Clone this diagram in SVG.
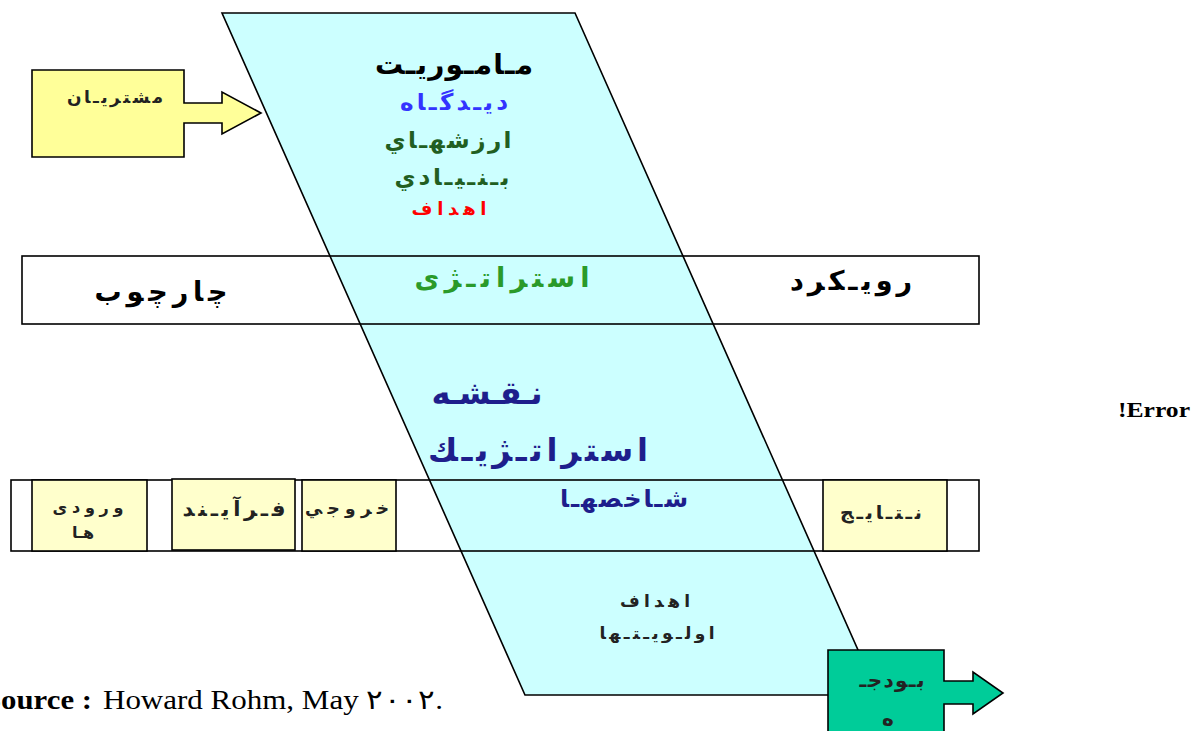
<svg xmlns="http://www.w3.org/2000/svg" width="1199" height="731" viewBox="0 0 1199 731">
<style>
.ar{font-family:"DejaVu Sans","Noto Sans",sans-serif;font-weight:bold;text-anchor:middle}
.ln{fill:none;stroke:#000;stroke-width:1.6}
.cell{fill:#FFFFCC;stroke:#000;stroke-width:1.6}
.tm{font-family:"Liberation Serif",serif}
</style>
<rect width="1199" height="731" fill="#fff"/>
<g id="strategy-shape">
<polygon points="222,13 575,13 878,695 525,695" fill="#CCFFFF" stroke="#000" stroke-width="1.6"/>
<text class="ar" x="454" y="74" font-size="28" fill="#000" textLength="158" lengthAdjust="spacing">مـامـوريـت</text>
<text class="ar" x="454" y="110" font-size="23" fill="#3333FF" textLength="108" lengthAdjust="spacing">ديـدگـاه</text>
<text class="ar" x="448" y="148" font-size="23" fill="#215E21" textLength="127" lengthAdjust="spacing">ارزشهـاي</text>
<text class="ar" x="452" y="185" font-size="23" fill="#215E21" textLength="115" lengthAdjust="spacing">بـنـيـادي</text>
<text class="ar" x="449" y="215" font-size="18" fill="#FF0000" textLength="75" lengthAdjust="spacing">اهداف</text>
<text class="ar" x="487" y="404" font-size="32" fill="#1E1E8C" textLength="111" lengthAdjust="spacing">نـقـشـه</text>
<text class="ar" x="538" y="461" font-size="32" fill="#1E1E8C" textLength="220" lengthAdjust="spacing">استراتـژيـك</text>
<text class="ar" x="655" y="607" font-size="17" fill="#222" textLength="70" lengthAdjust="spacing">اهداف</text>
<text class="ar" x="657" y="639" font-size="17" fill="#222" textLength="115" lengthAdjust="spacing">اولـويـتـها</text>
</g>
<g id="band-strategy">
<rect class="ln" x="22" y="256" width="957" height="68"/>
<text class="ar" x="161" y="301" font-size="27" fill="#000" textLength="133" lengthAdjust="spacing">چارچوب</text>
<text class="ar" x="502" y="287" font-size="27" fill="#2A9A2A" textLength="175" lengthAdjust="spacing">استراتـژی</text>
<text class="ar" x="851" y="290" font-size="27" fill="#000" textLength="122" lengthAdjust="spacing">رويـكرد</text>
</g>
<g id="band-measures">
<rect class="ln" x="11" y="480" width="968" height="71"/>
<text class="ar" x="624" y="507" font-size="24" fill="#1E1E8C" textLength="128" lengthAdjust="spacing">شـاخصهـا</text>
</g>
<g id="node-inputs">
<rect class="cell" x="32" y="480" width="115" height="71"/>
<text class="ar" x="88" y="513" font-size="16" fill="#222" textLength="71" lengthAdjust="spacing">ورودی</text>
<text class="ar" x="83" y="538" font-size="16" fill="#222" textLength="22" lengthAdjust="spacing">هـا</text>
</g>
<g id="node-process">
<rect class="cell" x="172" y="479" width="123" height="71" stroke-width="2"/>
<text class="ar" x="234" y="516" font-size="21" fill="#222" textLength="103" lengthAdjust="spacing">فـرآيـند</text>
</g>
<g id="node-outputs">
<rect class="cell" x="302" y="480" width="94" height="71"/>
<text class="ar" x="347" y="514" font-size="17" fill="#222" textLength="84" lengthAdjust="spacing">خروجي</text>
</g>
<g id="node-results">
<rect class="cell" x="823" y="480" width="124" height="71"/>
<text class="ar" x="881" y="519" font-size="19" fill="#222" textLength="82" lengthAdjust="spacing">نـتـايـج</text>
</g>
<g id="node-customers">
<path d="M32,70 H184 V103 H222 V92 L261,113 L222,134 V123 H184 V157 H32 Z" fill="#FFFF99" stroke="#000" stroke-width="1.6"/>
<text class="ar" x="115" y="103" font-size="17" fill="#222" textLength="96" lengthAdjust="spacing">مشتريـان</text>
</g>
<g id="node-budget">
<path d="M828,650 H944 V681 H973 V672 L1003,693 L973,714 V704 H944 V735 H828 Z" fill="#00CC99" stroke="#000" stroke-width="1.6"/>
<text class="ar" x="892" y="687" font-size="20" fill="#222" textLength="65" lengthAdjust="spacing">بـودجـ</text>
<text class="ar" x="888" y="726" font-size="20" fill="#222">ه</text>
</g>
<g id="connectors"></g>
<text class="tm" y="709" font-size="27" fill="#000"><tspan x="-16" font-weight="bold" textLength="108" lengthAdjust="spacingAndGlyphs">Source :</tspan><tspan x="103" textLength="340" lengthAdjust="spacingAndGlyphs">Howard Rohm, May ٢٠٠٢.</tspan></text>
<text class="tm" x="1118" y="417" font-size="21" font-weight="bold" fill="#000" textLength="72" lengthAdjust="spacingAndGlyphs">!Error</text>
</svg>
